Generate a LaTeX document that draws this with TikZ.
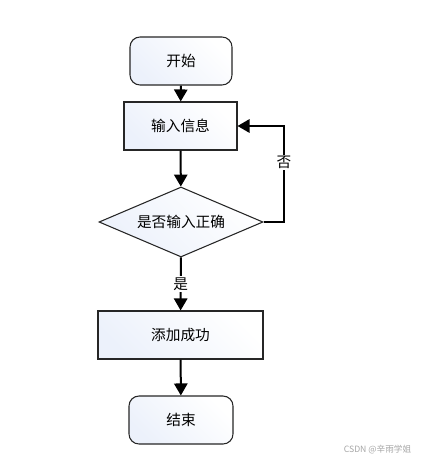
\documentclass[tikz,border=0pt]{standalone}
\usepackage{fontspec}
\setmainfont{Noto Sans CJK SC}
\usetikzlibrary{arrows.meta,shapes.geometric}
\definecolor{boxblue}{RGB}{236,241,251}
\tikzset{
  px/.style={x=0.75pt,y=-0.75pt},
  boxfill/.style={draw=black!85,line width=0.8pt,left color=boxblue,right color=white,shading angle=135,
    font=\fontsize{11}{13}\selectfont,inner sep=0pt},
  termbox/.style={boxfill,rectangle,rounded corners=7.5pt,minimum width=76.5pt,minimum height=36pt},
  procbox/.style={boxfill,rectangle,minimum height=36pt},
  decbox/.style={boxfill,diamond,aspect=2.34,minimum width=123pt,minimum height=52.5pt},
  conn/.style={draw=black,line width=1.5pt,-{Triangle[width=10pt,length=9pt]}},
  lbl/.style={fill=white,inner sep=1pt,font=\fontsize{11}{13}\selectfont},
}
\begin{document}
\begin{tikzpicture}[px]
\useasboundingbox (0,0) rectangle (421,460);
\node[termbox] (start) at (181,61) {开始};
\node[procbox,minimum width=84.75pt] (input) at (180.5,126) {输入信息};
\node[decbox] (check) at (181,222) {是否输入正确};
\node[procbox,minimum width=123.75pt] (add) at (180.5,335) {添加成功};
\node[termbox,minimum width=78pt] (end) at (181,420) {结束};
\coordinate (c1) at (284,222);
\coordinate (c2) at (284,126);
\draw[conn] (start) -- (input);
\draw[conn] (input) -- (check);
\draw[conn] (check) -- node[lbl,pos=0.5] (yes) {是} (add);
\draw[conn] (add) -- (end);
\draw[conn] (check.east) -- (c1) -- node[lbl,pos=0.62] (no) {否} (c2) -- (input.east);
\node[text=black!35,font=\fontsize{6.5}{8}\selectfont,anchor=east] (wm) at (416,450) {CSDN @辛雨学姐};
\end{tikzpicture}
\end{document}
